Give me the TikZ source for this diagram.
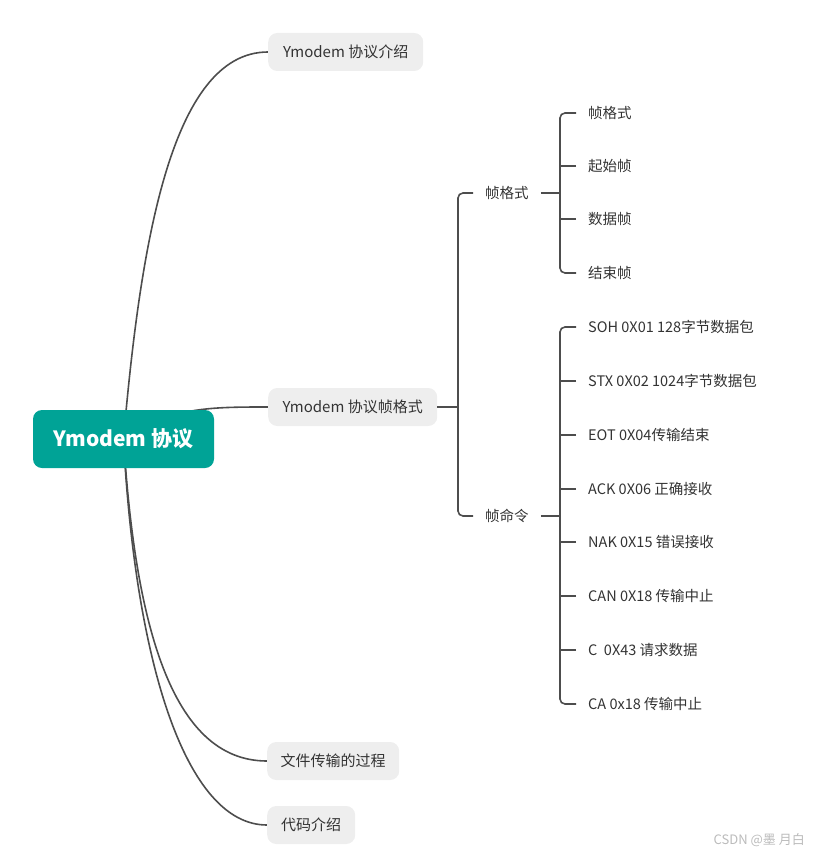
\documentclass[tikz,border=0pt]{standalone}
\usepackage{fontspec}
\setmainfont{Noto Sans CJK SC}
\usetikzlibrary{backgrounds}
\definecolor{rootc}{HTML}{00A396}
\definecolor{boxc}{HTML}{EEEEEE}
\definecolor{linec}{HTML}{4D4D4D}
\definecolor{txtc}{HTML}{333333}
\definecolor{markc}{HTML}{BBBBBB}
\begin{document}
\begin{tikzpicture}[x=1pt,y=-1pt,
  rootbox/.style={fill=rootc, rounded corners=9pt, minimum width=181pt, minimum height=58pt,
    text=white, font=\fontsize{21}{25}\selectfont\bfseries, inner sep=0pt},
  topicbox/.style={fill=boxc, rounded corners=9pt, minimum height=38pt, anchor=west,
    text=txtc, font=\fontsize{15}{18}\selectfont, inner sep=0pt},
  subtext/.style={text=txtc, font=\fontsize{14.5}{17}\selectfont, anchor=west, inner xsep=12pt, inner ysep=2pt},
  link/.style={draw=linec, line width=1.6pt},
  stub/.style={draw=linec, line width=1.5pt},
  joint/.style={draw=linec, line width=2.6pt},
  ]
\useasboundingbox (0,0) rectangle (817,856);

% root and main topics
\node[rootbox] (root) at (123.5,439) {Ymodem 协议};
\node[topicbox, minimum width=155pt] (intro) at (268,52) {Ymodem 协议介绍};
\node[topicbox, minimum width=169pt] (frame) at (268,407) {Ymodem 协议帧格式};
\node[topicbox, minimum width=132pt] (file) at (267,761) {文件传输的过程};
\node[topicbox, minimum width=88pt] (code) at (267,825) {代码介绍};

% level 2
\node[subtext] (ff) at (473,193) {帧格式};
\node[subtext] (fc) at (473,516) {帧命令};
\coordinate (j1) at (458,407);

% level 3 under 帧格式
\node[subtext] (a1) at (576,113) {帧格式};
\node[subtext] (a2) at (576,166) {起始帧};
\node[subtext] (a3) at (576,219) {数据帧};
\node[subtext] (a4) at (576,273) {结束帧};
\coordinate (j2) at (560,193);

% level 3 under 帧命令
\node[subtext] (b1) at (576,327) {SOH 0X01 128字节数据包};
\node[subtext] (b2) at (576,381) {STX 0X02 1024字节数据包};
\node[subtext] (b3) at (576,435) {EOT 0X04传输结束};
\node[subtext] (b4) at (576,489) {ACK 0X06 正确接收};
\node[subtext] (b5) at (576,542) {NAK 0X15 错误接收};
\node[subtext] (b6) at (576,596) {CAN 0X18 传输中止};
\node[subtext] (b7) at (576,650) {C\ \ 0X43 请求数据};
\node[subtext] (b8) at (576,704) {CA 0x18 传输中止};
\coordinate (j3) at (560,516);

% watermark
\node[anchor=east, text=markc, font=\fontsize{13}{15}\selectfont, inner sep=0pt] (mark) at (805,840) {CSDN @墨 月白};

\begin{scope}[on background layer]
  % curves from the root
  \draw[link] (root.center) .. controls (140,250) and (170,52) .. (intro.west);
  \draw[link] (root.center) .. controls (170,407) and (210,407) .. (frame.west);
  \draw[link] (root.center) .. controls (135,620) and (170,761) .. (file.west);
  \draw[link] (root.center) .. controls (135,660) and (185,825) .. (code.west);
\end{scope}

% bracket level 2
\draw[link] (frame.east) -- (j1);
\draw[link, rounded corners=5pt] (ff.west) -| (j1) |- (fc.west);

% bracket 帧格式
\draw[joint] (ff.east) -- (j2);
\draw[link, rounded corners=5pt] (a1.west) -| (j2) |- (a4.west);
\draw[stub] (a2.west) -- (a2.west -| j2);
\draw[stub] (a3.west) -- (a3.west -| j2);

% bracket 帧命令
\draw[joint] (fc.east) -- (j3);
\draw[link, rounded corners=5pt] (b1.west) -| (j3) |- (b8.west);
\foreach \n in {b2,b3,b4,b5,b6,b7}
  \draw[stub] (\n.west) -- (\n.west -| j3);
\end{tikzpicture}
\end{document}
